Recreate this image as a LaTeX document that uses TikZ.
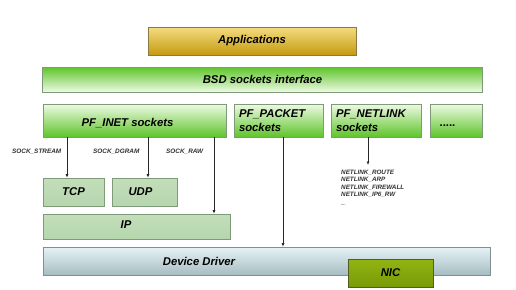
\documentclass[tikz,border=0pt]{standalone}
\usepackage{fontspec}
\setmainfont{Liberation Sans}
\usetikzlibrary{arrows.meta}
\begin{document}
\begin{tikzpicture}[x=1pt,y=-1pt,
  box/.style={draw=black!50, line width=0.6pt, inner sep=0pt, font=\fontsize{11.3}{13}\selectfont\bfseries\itshape},
  appbox/.style={box, top color=appT, middle color=appM, bottom color=appB, draw=appD},
  greenbox/.style={box, top color=grT, bottom color=grB, draw=grD},
  pfbox/.style={box, top color=grB, bottom color=grT, draw=grD},
  protobox/.style={box, top color=prT, middle color=prM, bottom color=prB, draw=prD},
  devbox/.style={box, top color=dvT, bottom color=dvB, draw=dvD},
  nicbox/.style={box, top color=nicT, middle color=nicM, bottom color=nicB, draw=nicD},
  small/.style={inner sep=0pt, font=\fontsize{6.4}{7.4}\selectfont\bfseries\itshape, text=black!80},
  arr/.style={-{Latex[length=3.5pt,width=3pt]}, line width=0.7pt, black!85}
]
\definecolor{appT}{HTML}{F4DC80}\definecolor{appM}{HTML}{E6BE3A}\definecolor{appB}{HTML}{C49A10}\definecolor{appD}{HTML}{8A7A40}
\definecolor{grT}{HTML}{5EC42A}\definecolor{grB}{HTML}{EEFAE4}\definecolor{grD}{HTML}{7F9A78}
\definecolor{prT}{HTML}{C2DEBA}\definecolor{prM}{HTML}{E6F3E2}\definecolor{prB}{HTML}{B6D6AE}\definecolor{prD}{HTML}{7F9A78}
\definecolor{dvT}{HTML}{E6F3F5}\definecolor{dvB}{HTML}{A6BCC2}\definecolor{dvD}{HTML}{7F8F92}
\definecolor{nicT}{HTML}{92B412}\definecolor{nicM}{HTML}{AAD800}\definecolor{nicB}{HTML}{789A08}\definecolor{nicD}{HTML}{4F5F20}
\useasboundingbox[fill=white] (0,0) rectangle (516,289);

\node[appbox, minimum width=208, minimum height=28] (app) at (252,41) {Applications};
\node[greenbox, minimum width=440, minimum height=25] (bsd) at (262.5,79.5) {BSD sockets interface};
\node[pfbox, minimum width=183, minimum height=33] (inet) at (134.5,120.5) {\hspace{-14pt}\raisebox{-6.3pt}[0pt][0pt]{PF\_INET sockets}};
\node[pfbox, minimum width=89, minimum height=33, text width=79, align=left, font=\fontsize{11.3}{14}\selectfont\bfseries\itshape] (packet) at (278.5,120.5) {PF\_PACKET\\sockets};
\node[pfbox, minimum width=90, minimum height=33, text width=80, align=left, font=\fontsize{11.3}{14}\selectfont\bfseries\itshape] (netlink) at (376,120.5) {PF\_NETLINK\\sockets};
\node[pfbox, minimum width=52, minimum height=33, font=\fontsize{11.3}{10}\selectfont\bfseries] (dots) at (456,120.5) {\hspace{-17pt}\raisebox{-6pt}[0pt][0pt]{.....}};

\node[protobox, minimum width=61, minimum height=28] (tcp) at (73.5,192) {TCP};
\node[protobox, minimum width=65, minimum height=28] (udp) at (144.5,192) {\hspace{-8pt}UDP};
\node[protobox, minimum width=187, minimum height=25] (ip) at (136.5,226.5) {\hspace{-21pt}\raisebox{-1.5pt}[0pt][0pt]{IP}};
\node[devbox, minimum width=447, minimum height=28] (dev) at (266.5,261) {\hspace{-135pt}Device Driver};
\node[nicbox, minimum width=85, minimum height=28] (nic) at (390.5,273) {NIC};

\node[small, anchor=west] (sstream) at (12,151.7) {SOCK\_STREAM};
\node[small, anchor=west] (sdgram) at (93,151.7) {SOCK\_DGRAM};
\node[small, anchor=west] (sraw) at (166,151.7) {SOCK\_RAW};
\node[small, anchor=north west, align=left, font=\fontsize{6.3}{7.6}\selectfont\bfseries\itshape] (nllist) at (341,169.5) {NETLINK\_ROUTE\\NETLINK\_ARP\\NETLINK\_FIREWALL\\NETLINK\_IP6\_RW\\[0.5pt]{\fontsize{4}{4}\selectfont ....}};
\coordinate (nlend) at (368,165);

\draw[arr] (inet.south -| 67,0) -- (tcp.north -| 67,0);
\draw[arr] (inet.south -| 148,0) -- (udp.north -| 148,0);
\draw[arr] (inet.south -| 214,0) -- (ip.north -| 214,0);
\draw[arr] (packet.south -| 283,0) -- (dev.north -| 283,0);
\draw[arr] (netlink.south -| nlend) -- (nlend);
\end{tikzpicture}
\end{document}
